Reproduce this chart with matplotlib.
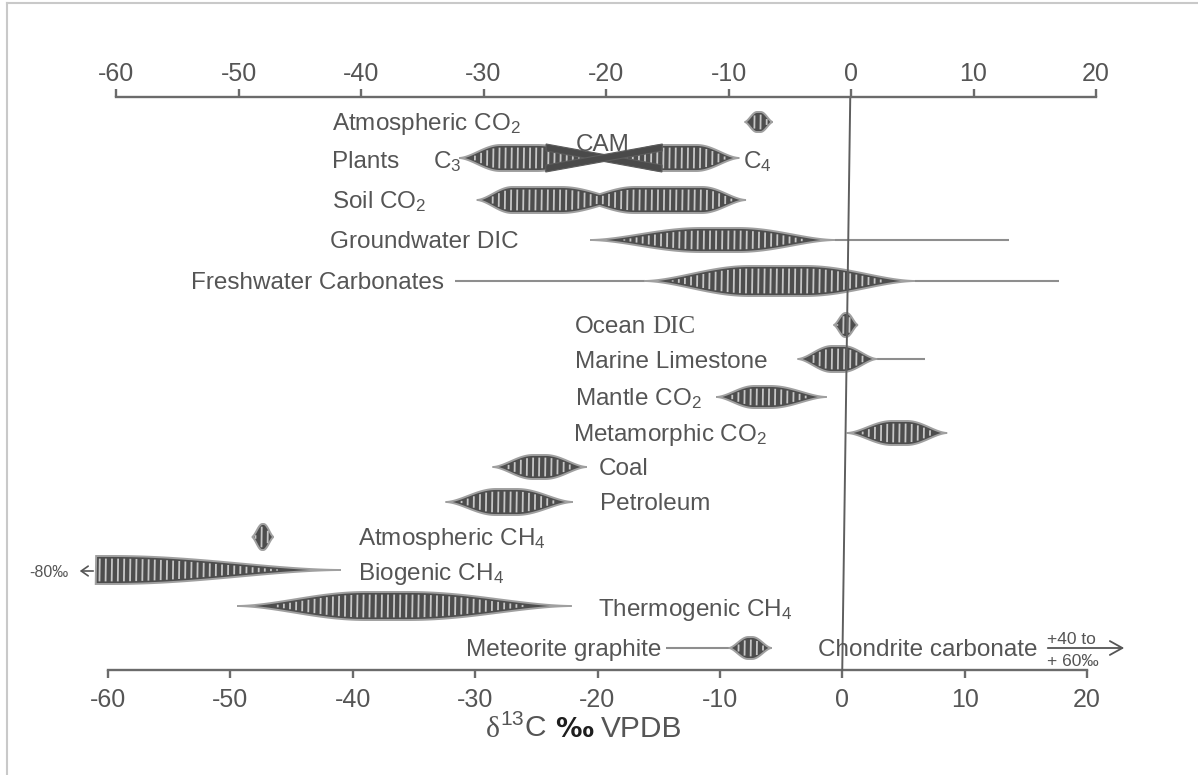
import numpy as np
import matplotlib
matplotlib.use("Agg")
import matplotlib.pyplot as plt
from matplotlib.transforms import Affine2D
from matplotlib.lines import Line2D
from matplotlib.patches import FancyArrowPatch

plt.rcParams['font.family'] = ['Liberation Sans', 'DejaVu Sans']
plt.rcParams['mathtext.fontset'] = 'custom'
plt.rcParams['mathtext.rm'] = 'Liberation Sans'
plt.rcParams['mathtext.it'] = 'Liberation Sans:italic'
plt.rcParams['mathtext.bf'] = 'Liberation Sans:bold'
plt.rcParams['mathtext.default'] = 'regular'

# ---------------- data (delta13C, permil VPDB) ----------------
ticks = [-60, -50, -40, -30, -20, -10, 0, 10, 20]
tick_labels = ["-60", "-50", "-40", "-30", "-20", "-10", "0", "10", "20"]

comp_names = ["Atmospheric CO2", "C3 plants", "C4 plants", "Soil CO2 (C3)", "Soil CO2 (C4)",
              "Groundwater DIC", "Freshwater Carbonates", "Ocean DIC", "Marine Limestone",
              "Mantle CO2", "Metamorphic CO2", "Coal", "Petroleum", "Atmospheric CH4",
              "Biogenic CH4", "Thermogenic CH4", "Meteorite graphite"]
comp_row = [0, 1, 1, 2, 2, 3, 4, 5, 6, 7, 8, 9, 10, 11, 12, 13, 14]
comp_lo = [-8.6, -31.9, -20.0, -30.4, -22.5, -21.1, -16.6, -1.1, -4.0, -10.6, 0.1, -28.8, -32.6, -48.4, -61.1, -49.5, -9.3]
comp_m1 = [-7.6, -28.5, -15.0, -27.5, -17.5, -12.0, -8.0, -0.15, -1.2, -7.5, 3.8, -25.5, -28.5, -47.55, -61.1, -39.0, -7.7]
comp_m2 = [-7.3, -25.5, -12.5, -23.5, -12.0, -9.0, -3.5, -0.05, -0.3, -6.2, 5.0, -24.5, -26.8, -47.45, -59.8, -35.5, -7.4]
comp_hi = [-6.3, -20.4, -9.0, -18.0, -8.4, -1.1, 5.5, 0.9, 2.5, -1.6, 8.3, -21.1, -22.2, -46.6, -41.1, -22.2, -5.8]
soil_waist = 0.38           # relative thickness between the two soil CO2 modes

tail_row = [3, 4, 4, 6, 14]
tail_from = [-1.1, -32.1, 5.5, 2.5, -14.4]
tail_to = [13.1, -16.6, 17.3, 6.4, -9.3]

cam_lo, cam_mid, cam_hi = -24.8, -20.2, -15.3

# ---------------- layout / style ----------------
W, HP = 1198, 775
row_y = [122, 158, 200, 240, 281, 325, 359, 397, 433, 467, 502, 537, 570, 606, 648]
row_half = [10, 13, 13, 12, 15, 12, 13, 11, 12, 12, 13, 13, 14, 14, 11]

TXT = "#555555"
AXC = "#6b6b6b"
FILL = "#4d4d4d"
EDGE = "#a0a0a0"
STRIPE = "#c6c6c6"
WHISK = "#8e8e8e"
FS = 17.5

fig = plt.figure(figsize=(W / 100, HP / 100), dpi=100)
fig.patch.set_facecolor("white")


def fx(x):
    return x / W


def fy(y):
    return 1 - y / HP


Y_TOP, Y_BOT = 97, 670
ax = fig.add_axes([fx(108), fy(Y_BOT), fx(1087) - fx(108), fy(Y_TOP) - fy(Y_BOT)])
ax.set_xlim(-60, 20)
ax.set_ylim(Y_BOT, Y_TOP)
ax.patch.set_visible(False)
for s in ["top", "left", "right"]:
    ax.spines[s].set_visible(False)
ax.spines["bottom"].set_color(AXC)
ax.spines["bottom"].set_linewidth(1.7)
ax.set_xticks(ticks)
ax.set_xticklabels(tick_labels)
ax.set_yticks([])
ax.tick_params(axis="x", direction="out", length=6, width=1.7, color=AXC,
               labelcolor=TXT, labelsize=18, pad=7)

axt = fig.add_axes([fx(116), fy(Y_BOT), fx(1096) - fx(116), fy(Y_TOP) - fy(Y_BOT)])
axt.set_xlim(-60, 20)
axt.patch.set_visible(False)
for s in ["bottom", "left", "right"]:
    axt.spines[s].set_visible(False)
axt.spines["top"].set_color(AXC)
axt.spines["top"].set_linewidth(1.7)
axt.xaxis.tick_top()
axt.set_xticks(ticks)
axt.set_xticklabels(tick_labels)
axt.set_yticks([])
axt.tick_params(axis="x", direction="out", length=6, width=1.7, color=AXC,
                labelcolor=TXT, labelsize=18, pad=2)

# slight rotation of the scanned figure: shear x with height
y0_disp = HP - Y_BOT
shear = Affine2D().translate(0, -y0_disp).skew(np.arctan(8 / 573), 0).translate(0, y0_disp)
tr = ax.transData + shear


def prof(x, lo, m1, m2, hi, H):
    h = np.full_like(x, float(H))
    if m1 > lo:
        t = np.clip((x - lo) / (m1 - lo), 0, 1)
        h = np.where(x < m1, H * np.sin(np.pi * t / 2) ** 1.7, h)
    if hi > m2:
        t = np.clip((hi - x) / (hi - m2), 0, 1)
        h = np.where(x > m2, H * np.sin(np.pi * t / 2) ** 1.7, h)
    return h


def draw_shape(xs, h, y0, z=3):
    px = np.concatenate([xs, xs[::-1]])
    py = np.concatenate([y0 - h, (y0 + h)[::-1]])
    ax.fill(px, py, facecolor=FILL, edgecolor=EDGE, linewidth=1.4,
            transform=tr, clip_on=False, zorder=z)
    lo, hi = xs[0], xs[-1]
    sx = np.arange(lo + 0.3, hi - 0.15, 0.5)
    sh = np.interp(sx, xs, h) - 2.6
    keep = sh > 0.6
    ax.vlines(sx[keep], y0 - sh[keep], y0 + sh[keep], colors=STRIPE,
              linewidth=1.3, transform=tr, clip_on=False, zorder=z + 0.1)


# whiskers
for r, a, b in zip(tail_row, tail_from, tail_to):
    ax.plot([a, b], [row_y[r], row_y[r]], color=WHISK, lw=1.5, transform=tr,
            clip_on=False, zorder=2, solid_capstyle="butt")

# soil CO2 (merged two-mode shape)
soil_idx = [i for i, r in enumerate(comp_row) if r == 2]
xs = np.linspace(min(comp_lo[i] for i in soil_idx), max(comp_hi[i] for i in soil_idx), 500)
Hs = row_half[2]
hs = np.max([prof(xs, comp_lo[i], comp_m1[i], comp_m2[i], comp_hi[i], Hs) for i in soil_idx], axis=0)
wmask = (xs > comp_m2[soil_idx[0]]) & (xs < comp_m1[soil_idx[1]])
hs = np.where(wmask, np.maximum(hs, soil_waist * Hs), hs)
draw_shape(xs, hs, row_y[2])

for i in range(len(comp_row)):
    r = comp_row[i]
    if r == 2:
        continue
    xs = np.linspace(comp_lo[i], comp_hi[i], 400)
    h = prof(xs, comp_lo[i], comp_m1[i], comp_m2[i], comp_hi[i], row_half[r])
    draw_shape(xs, h, row_y[r])

# CAM: two dark crossing bands over the plant tails
yc = row_y[1]
Hc = row_half[1] + 1.0
b = 7
for sgn in (1, -1):
    ax.fill([cam_lo, cam_hi, cam_hi, cam_lo],
            [yc - sgn * Hc, yc + sgn * (Hc - b), yc + sgn * Hc, yc - sgn * (Hc - b)],
            facecolor="#4a4a4a", edgecolor="#5c5c5c", linewidth=0.8,
            transform=tr, clip_on=False, zorder=4)

# zero line
ax.plot([0, 0], [Y_TOP, Y_BOT], color="#5e5e5e", lw=1.4, transform=tr,
        clip_on=False, zorder=6)


# ---------------- labels ----------------
def lab(x, y, s, ha="left", size=FS, **kw):
    return fig.text(fx(x), fy(y + 8), s, ha=ha, va="baseline", fontsize=size,
                    color=TXT, **kw)


def after(prev, s, dx=0, **kw):
    return ax.annotate(s, xy=(1, 0), xycoords=prev, xytext=(dx, 0),
                       textcoords="offset points", ha="left", va="bottom",
                       annotation_clip=False, **kw)


lab(332, 122, "Atmospheric CO$_2$")
lab(332, 160, "Plants")
lab(433, 160, "C$_3$")
lab(603, 143, "CAM", ha="center", zorder=7)
lab(743, 160, "C$_4$")
lab(332, 200, "Soil CO$_2$")
lab(330, 240, "Groundwater DIC")
lab(191, 281, "Freshwater Carbonates")
t_ocean = lab(575, 325, "Ocean")
after(t_ocean, "DIC", dx=4, fontsize=FS + 0.5, color=TXT, family="Liberation Serif")
lab(575, 360, "Marine Limestone")
lab(575, 397, "Mantle CO$_2$")
lab(573, 433, "Metamorphic CO$_2$")
lab(599, 467, "Coal")
lab(600, 502, "Petroleum")
lab(358, 537, "Atmospheric CH$_4$")
lab(358, 572, "Biogenic CH$_4$")
lab(598, 608, "Thermogenic CH$_4$")
lab(661, 648, "Meteorite graphite", ha="right")
lab(818, 648, "Chondrite carbonate")

fig.text(fx(1047), fy(644), "+40 to", fontsize=12.5, color=TXT, ha="left", va="baseline")
fig.text(fx(1047), fy(666), "+ 60‰", fontsize=12.5, color=TXT, ha="left", va="baseline")
fig.add_artist(FancyArrowPatch(
    (fx(1045), fy(648)), (fx(1127), fy(648)), transform=fig.transFigure,
    arrowstyle="->,head_length=9,head_width=5", color=TXT, lw=1.3, mutation_scale=1))

fig.text(fx(29), fy(577), "-80‰", fontsize=11.5, color=TXT, ha="left", va="baseline")
fig.add_artist(FancyArrowPatch(
    (fx(96), fy(571)), (fx(77), fy(571)), transform=fig.transFigure,
    arrowstyle="->,head_length=5,head_width=3.5", color=TXT, lw=1.2, mutation_scale=1))

# axis title (chained pieces)
t1 = fig.text(fx(486), fy(737), "δ", fontsize=21.5, color=TXT, ha="left", va="baseline",
              family="Liberation Serif")
t2 = after(t1, "$^{13}$C", fontsize=21.5, color=TXT)
t3 = after(t2, "‰", dx=6, fontsize=19, color="#1e1e1e", fontweight="bold", family="DejaVu Sans")
after(t3, "VPDB", dx=6, fontsize=21.5, color=TXT)

# scan border
fig.add_artist(Line2D([fx(7), fx(7)], [fy(3), 0], transform=fig.transFigure, color="#c9c9c9", lw=1.5))
fig.add_artist(Line2D([fx(7), 1], [fy(3), fy(3)], transform=fig.transFigure, color="#c9c9c9", lw=1.5))

fig.savefig("out.png", dpi=100, facecolor="white")
